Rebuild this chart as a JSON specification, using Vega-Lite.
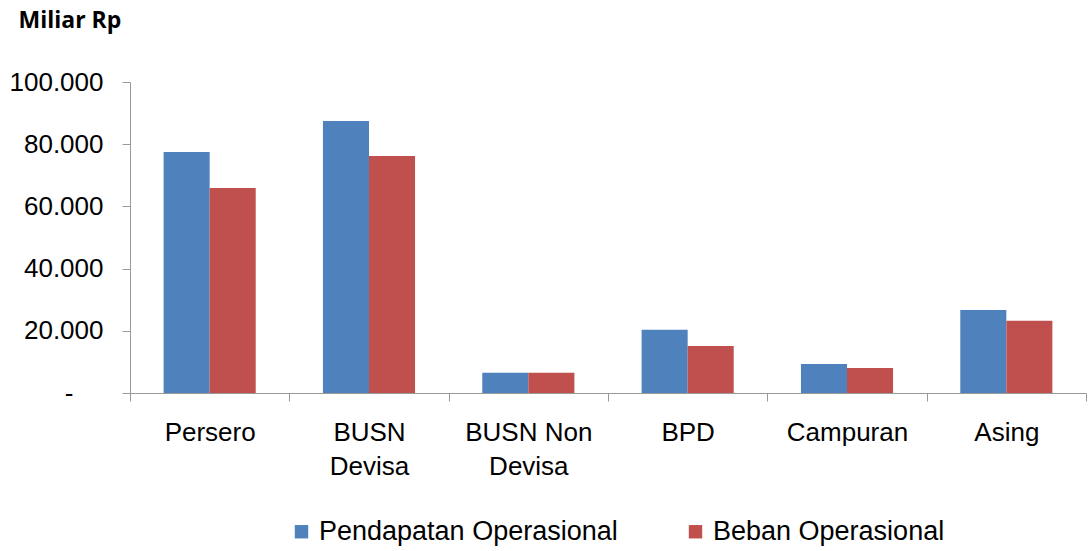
{
  "$schema": "https://vega.github.io/schema/vega-lite/v6.json",
  "width": 956,
  "height": 311,
  "autosize": {"type": "none"},
  "padding": {"left": 130, "top": 82, "right": 2, "bottom": 158},
  "background": "white",
  "config": {
    "view": {"stroke": null},
    "font": "Liberation Sans",
    "axis": {"grid": false, "domainColor": "#999999", "tickColor": "#999999", "labelColor": "#000000", "labelFont": "Liberation Sans", "labelFontSize": 26}
  },
  "data": {
    "values": [
      {"kelompok": "Persero", "seri": "Pendapatan Operasional", "nilai": 77500},
      {"kelompok": "Persero", "seri": "Beban Operasional", "nilai": 65900},
      {"kelompok": "BUSN Devisa", "seri": "Pendapatan Operasional", "nilai": 87500},
      {"kelompok": "BUSN Devisa", "seri": "Beban Operasional", "nilai": 76200},
      {"kelompok": "BUSN Non Devisa", "seri": "Pendapatan Operasional", "nilai": 6500},
      {"kelompok": "BUSN Non Devisa", "seri": "Beban Operasional", "nilai": 6500},
      {"kelompok": "BPD", "seri": "Pendapatan Operasional", "nilai": 20300},
      {"kelompok": "BPD", "seri": "Beban Operasional", "nilai": 15100},
      {"kelompok": "Campuran", "seri": "Pendapatan Operasional", "nilai": 9300},
      {"kelompok": "Campuran", "seri": "Beban Operasional", "nilai": 8000},
      {"kelompok": "Asing", "seri": "Pendapatan Operasional", "nilai": 26700},
      {"kelompok": "Asing", "seri": "Beban Operasional", "nilai": 23200}
    ]
  },
  "mark": {"type": "bar"},
  "encoding": {
    "x": {
      "field": "kelompok",
      "type": "nominal",
      "sort": null,
      "scale": {"paddingInner": 0, "paddingOuter": 0},
      "axis": {
        "title": null,
        "labelAngle": 0,
        "tickBand": "extent",
        "tickSize": 8,
        "labelPadding": 18,
        "labelLineHeight": 34,
        "labelExpr": "datum.label == 'BUSN Devisa' ? ['BUSN', 'Devisa'] : datum.label == 'BUSN Non Devisa' ? ['BUSN Non', 'Devisa'] : datum.label"
      }
    },
    "xOffset": {
      "field": "seri",
      "type": "nominal",
      "sort": ["Pendapatan Operasional", "Beban Operasional"],
      "scale": {"paddingInner": 0, "paddingOuter": 0.73}
    },
    "y": {
      "field": "nilai",
      "type": "quantitative",
      "scale": {"domain": [0, 100000], "nice": false},
      "axis": {
        "values": [0, 20000, 40000, 60000, 80000, 100000],
        "tickSize": 8,
        "labelPadding": {"condition": {"test": "datum.value == 0", "value": 49}, "value": 19},
        "labelExpr": "datum.value == 0 ? '-' : replace(format(datum.value, ',.0f'), /,/g, '.')",
        "title": "Miliar Rp",
        "titleAngle": 0,
        "titleAlign": "left",
        "titleBaseline": "middle",
        "titleX": -112,
        "titleY": -62,
        "titleFont": "Open Sans",
        "titleFontWeight": "bold",
        "titleFontSize": 23,
        "titleColor": "#000000"
      }
    },
    "color": {
      "field": "seri",
      "type": "nominal",
      "sort": ["Pendapatan Operasional", "Beban Operasional"],
      "scale": {"domain": ["Pendapatan Operasional", "Beban Operasional"], "range": ["#4F81BD", "#C0504D"]},
      "legend": {
        "title": null,
        "orient": "none",
        "direction": "horizontal",
        "legendX": 158,
        "legendY": 436,
        "symbolType": "square",
        "symbolSize": 180,
        "symbolStrokeWidth": 0,
        "symbolOpacity": 1,
        "labelFontSize": 27,
        "labelLimit": 0,
        "labelFont": "Liberation Sans",
        "labelColor": "#000000",
        "labelOffset": 4,
        "columnPadding": 64
      }
    }
  }
}
